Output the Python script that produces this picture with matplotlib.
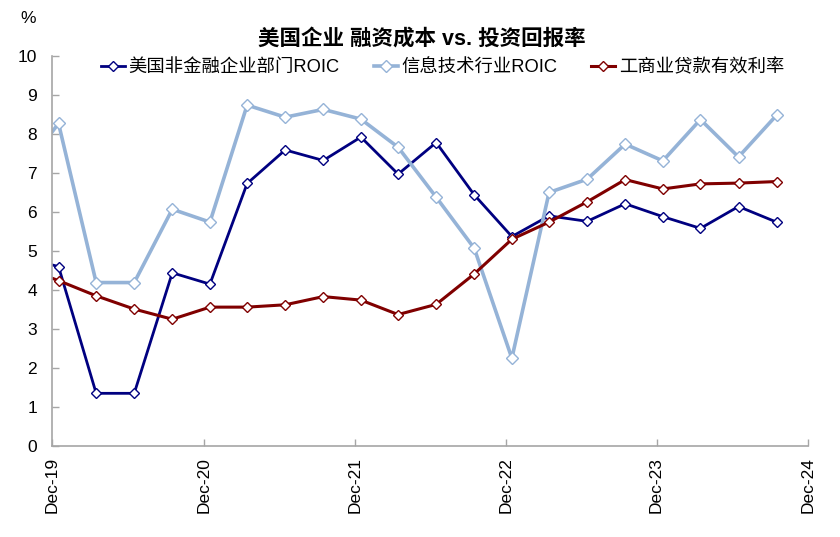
import matplotlib
matplotlib.use("Agg")
import matplotlib.pyplot as plt
import matplotlib.dates as mdates
import pandas as pd
import numpy as np

plt.rcParams['font.family'] = ['Liberation Sans', 'Noto Sans CJK SC']
plt.rcParams['axes.unicode_minus'] = False

# quarterly observations (Sep-19 .. Sep-24)
dates = pd.date_range('2019-09-01', periods=21, freq='3MS') + pd.Timedelta(days=15)

nonfin_roic = [4.85, 4.60, 1.35, 1.35, 4.44, 4.15, 6.73, 7.59, 7.32, 7.92, 6.97,
               7.78, 6.44, 5.37, 5.90, 5.76, 6.21, 5.88, 5.58, 6.14, 5.74]
it_roic = [7.00, 8.27, 4.19, 4.19, 6.07, 5.74, 8.74, 8.43, 8.63, 8.38, 7.66,
           6.38, 5.07, 2.25, 6.50, 6.84, 7.74, 7.31, 8.37, 7.41, 8.48]
ci_loan_rate = [4.60, 4.24, 3.85, 3.51, 3.25, 3.56, 3.56, 3.62, 3.83, 3.74, 3.37,
                3.63, 4.41, 5.30, 5.74, 6.26, 6.83, 6.59, 6.72, 6.74, 6.78]

labels = ['美国非金融企业部门ROIC', '信息技术行业ROIC', '工商业贷款有效利率']
colors = ['#000080', '#95B3D7', '#800000']
title = '美国企业 融资成本 vs. 投资回报率'

fig = plt.figure(figsize=(8.4, 5.37), dpi=100)
ax = fig.add_axes([0.0623, 0.1695, 0.8996, 0.7263])

series = [nonfin_roic, it_roic, ci_loan_rate]
lws = [2.0, 2.6, 2.2]
mss = [5.5, 6.5, 5.5]
handles = []
for vals, lab, c, lw, ms in zip(series, labels, colors, lws, mss):
    h, = ax.plot(dates, vals, color=c, lw=lw, marker='D', markersize=ms,
                 markerfacecolor='white', markeredgecolor=c, markeredgewidth=1.0,
                 label=lab, clip_on=True)
    handles.append(h)

ax.set_xlim(pd.Timestamp('2019-12-01'), pd.Timestamp('2024-12-01'))
ax.set_ylim(0, 10)
ax.set_yticks(np.arange(0, 11, 1))
ticks = pd.date_range('2019-12-01', periods=6, freq='12MS')
ax.set_xticks(ticks)
ax.xaxis.set_major_formatter(mdates.DateFormatter('%b-%y'))
for lbl in ax.get_xticklabels():
    lbl.set_rotation(90)

for s in ['top', 'right']:
    ax.spines[s].set_visible(False)
for s in ['left', 'bottom']:
    ax.spines[s].set_color('#A6A6A6')
    ax.spines[s].set_linewidth(1.2)
ax.tick_params(axis='both', direction='in', length=5, width=1.0, color='#A6A6A6',
               labelsize=12.5, labelcolor='black')
ax.tick_params(axis='y', pad=11)
ax.tick_params(axis='x', pad=8)

fig.text(0.502, 0.928, title, ha='center', va='center', fontsize=15.5, fontweight='bold')
fig.text(0.033, 0.965, '%', ha='center', va='center', fontsize=12.5)

fig.legend(handles=handles, labels=labels, loc='center', ncol=3,
           bbox_to_anchor=(0.527, 0.874), frameon=False, fontsize=13.2,
           handlelength=1.3, handletextpad=0.2, columnspacing=1.85)

fig.savefig('out.png', dpi=100)
